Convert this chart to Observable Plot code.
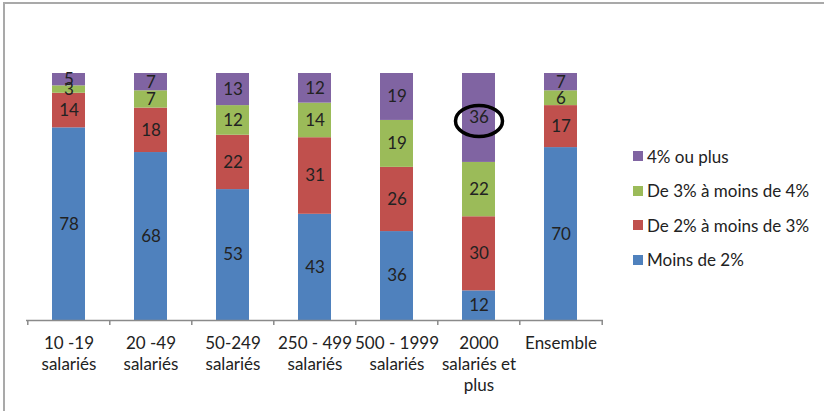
<!DOCTYPE html>
<html><head><meta charset="utf-8">
<script src="https://cdn.jsdelivr.net/npm/d3@7"></script>
<script src="https://cdn.jsdelivr.net/npm/@observablehq/plot@0.6"></script>
<style>
body{margin:0;background:#fff;}
#wrap{position:relative;width:824px;height:411px;overflow:hidden;font-family:Lato,sans-serif;}
#frame{position:absolute;left:3px;top:2px;right:-10px;bottom:-10px;border-top:2px solid #a9a9a9;border-left:2px solid #a9a9a9;pointer-events:none;}
#chart{position:absolute;left:0;top:0;}
#legend{position:absolute;left:633px;top:139px;}
.item{display:flex;align-items:center;height:34.5px;font-size:17px;color:#222;}
.sw{width:10px;height:10px;margin-right:4px;}
</style></head>
<body><div id="wrap"><div id="chart"></div><div id="frame"></div><div id="legend"></div></div>
<script>
const categories = ["10 -19 salariés","20 -49 salariés","50-249 salariés","250 - 499 salariés","500 - 1999 salariés","2000 salariés et plus","Ensemble"];
const tickLabels = ["10 -19\nsalariés","20 -49\nsalariés","50-249\nsalariés","250 - 499\nsalariés","500 - 1999\nsalariés","2000\nsalariés et\nplus","Ensemble"];
const series = ["Moins de 2%","De 2% à moins de 3%","De 3% à moins de 4%","4% ou plus"];
const colors = ["#4F81BD","#C0504D","#9BBB59","#8064A2"];
const moins2 = [78,68,53,43,36,12,70];
const de2a3 = [14,18,22,31,26,30,17];
const de3a4 = [3,7,12,14,19,22,6];
const plus4 = [5,7,13,12,19,36,7];
const highlightCategory = "2000 salariés et plus";
const highlightSeries = "4% ou plus";

const valuesBySeries = [moins2, de2a3, de3a4, plus4];
const rows = [];
categories.forEach((c, i) => {
  series.forEach((s, j) => rows.push({category: c, series: s, value: valuesBySeries[j][i]}));
});

const W = 824, H = 411;
const mL = 26, mR = 221, mT = 73, mB = 91;
const step = (W - mL - mR) / categories.length;

// ellipse symbol for the annotation circle
const ellipse = {
  draw(ctx, size) {
    const rx = Math.sqrt(size / Math.PI), ry = rx * 0.66, k = 0.5523;
    ctx.moveTo(rx, 0);
    ctx.bezierCurveTo(rx, ry * k, rx * k, ry, 0, ry);
    ctx.bezierCurveTo(-rx * k, ry, -rx, ry * k, -rx, 0);
    ctx.bezierCurveTo(-rx, -ry * k, -rx * k, -ry, 0, -ry);
    ctx.bezierCurveTo(rx * k, -ry, rx, -ry * k, rx, 0);
    ctx.closePath();
  }
};

const stackOpts = {x: "category", y: "value", z: "series", order: series};

const chart = Plot.plot({
  width: W, height: H,
  marginLeft: mL, marginRight: mR, marginTop: mT, marginBottom: mB,
  style: {fontFamily: "Lato, sans-serif", color: "#222", background: "transparent"},
  x: {domain: categories, paddingInner: 0.6, paddingOuter: 0.3, label: null},
  y: {domain: [0, 100], axis: null},
  color: {domain: series, range: colors},
  marks: [
    Plot.barY(rows, Plot.stackY({...stackOpts, fill: "series"})),
    Plot.text(rows, Plot.stackY({...stackOpts, text: "value", fontSize: 17, fill: "#222"})),
    Plot.dot(rows, Plot.stackY({...stackOpts, symbol: ellipse, r: 23.5, fill: "none", stroke: "black", strokeWidth: 3.5, dy: 3,
      strokeOpacity: d => (d.category === highlightCategory && d.series === highlightSeries) ? 1 : 0})),
    Plot.ruleY([0], {stroke: "#8a8a8a", strokeWidth: 1.5}),
    Plot.ruleX(categories, {x: d => d, y1: 0, y2: -2, dx: -step / 2, stroke: "#8a8a8a", strokeWidth: 1.5}),
    Plot.ruleX(categories.slice(-1), {x: d => d, y1: 0, y2: -2, dx: step / 2, stroke: "#8a8a8a", strokeWidth: 1.5}),
    Plot.axisX({tickSize: 0, tickPadding: 14, fontSize: 17, lineHeight: 1.22, tickFormat: (d) => tickLabels[categories.indexOf(d)], label: null})
  ]
});
document.getElementById("chart").append(chart);

const legend = document.getElementById("legend");
[...series].reverse().forEach(s => {
  const item = document.createElement("div");
  item.className = "item";
  const sw = document.createElement("span");
  sw.className = "sw";
  sw.style.background = colors[series.indexOf(s)];
  const t = document.createElement("span");
  t.textContent = s;
  item.append(sw, t);
  legend.append(item);
});
</script>
</body></html>
